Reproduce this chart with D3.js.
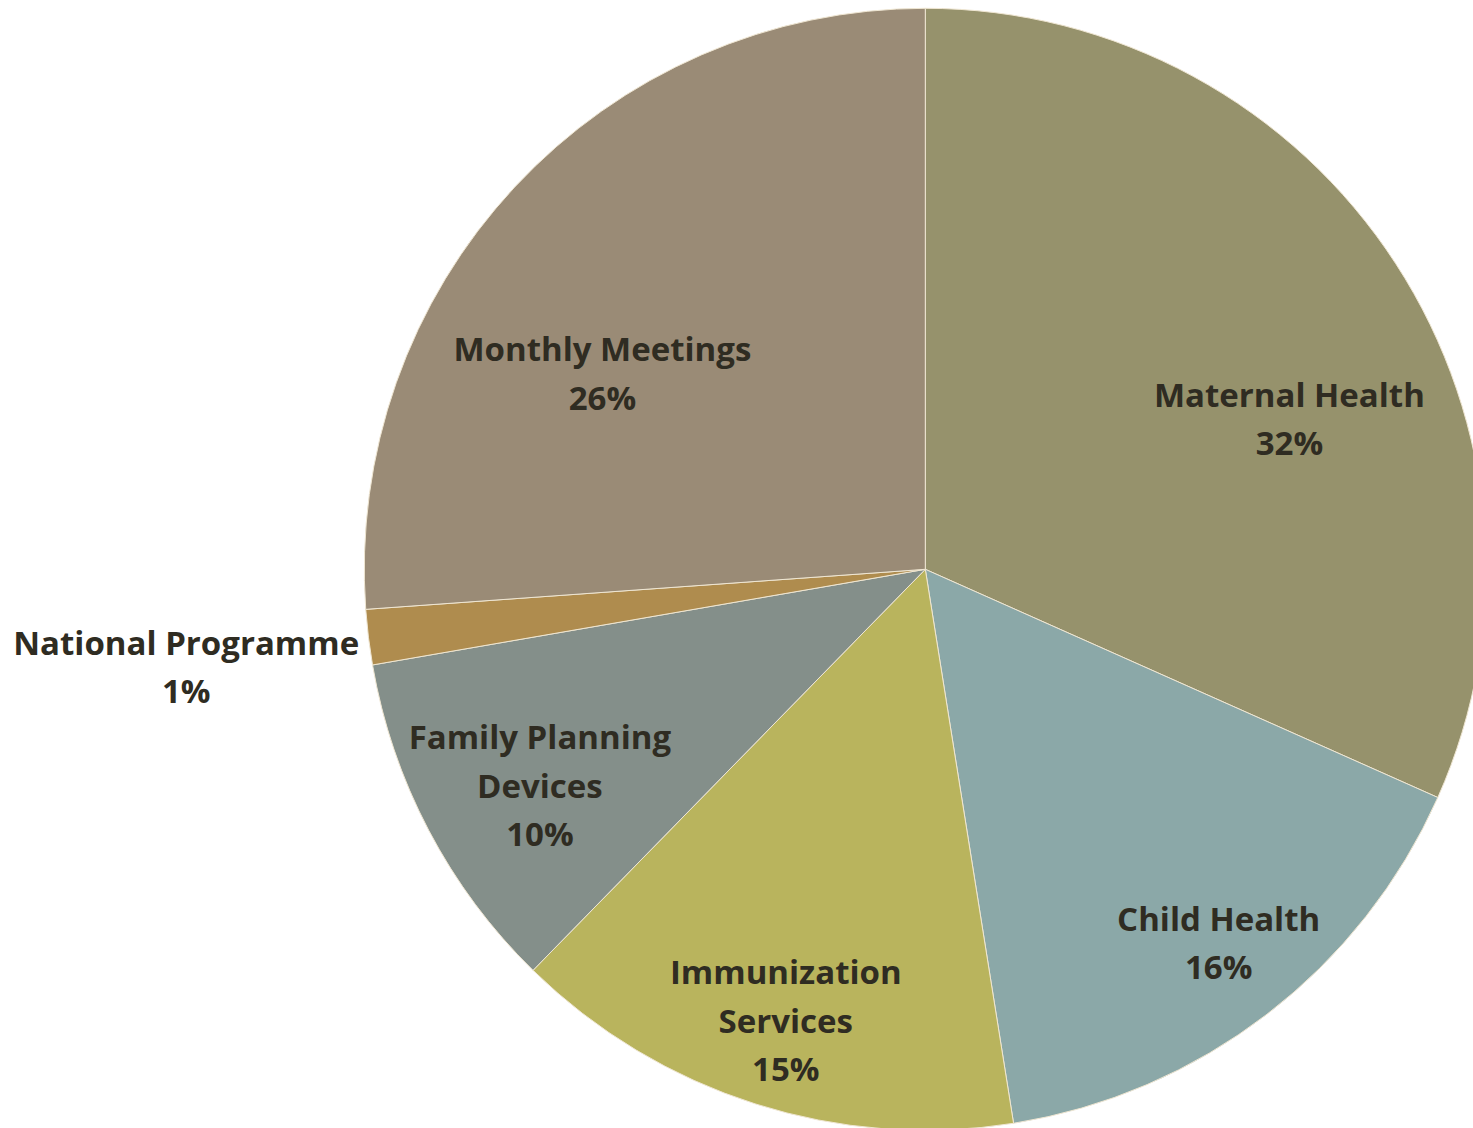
<!DOCTYPE html>
<html>
<head>
<meta charset="utf-8">
<script src="https://d3js.org/d3.v7.min.js"></script>
<style>
  body { margin: 0; background: #fff; }
  svg { display: block; }
  .slice-label { font-family: "Open Sans", Lato, sans-serif; font-weight: 700; font-size: 33px; fill: #2f2c22; }
</style>
</head>
<body>
<div id="chart"></div>
<script>
// Pie data (share of activities, %)
const categories = ['Maternal Health', 'Child Health', 'Immunization Services', 'Family Planning Devices', 'National Programme', 'Monthly Meetings'];
const values = [31.67, 15.82, 14.84, 9.95, 1.59, 26.14];
const percentLabels = ['32%', '16%', '15%', '10%', '1%', '26%'];
const colors = ['#96926c', '#8ba8a8', '#b9b45d', '#848f8a', '#af8c4e', '#9a8b76'];

const width = 1473, height = 1128;
const cx = 925.3, cy = 569.3, radius = 561;
const lineHeight = 48.5;

// Excel-like "best fit" label spots: angle shift from slice middle (deg) and radius factor
const labelSpots = {
  'Maternal Health': { shift: 10.6, r: 0.702 },
  'Child Health': { shift: -0.6, r: 0.847 },
  'Immunization Services': { shift: -0.5, r: 0.843 },
  'Family Planning Devices': { shift: -1.6, r: 0.788 },
  'National Programme': { shift: -0.6, r: 1.329 },
  'Monthly Meetings': { shift: -11.75, r: 0.673 }
};
// where the long names wrap
const wrapped = {
  'Immunization Services': ['Immunization', 'Services'],
  'Family Planning Devices': ['Family Planning', 'Devices']
};

const data = categories.map((c, i) => ({ name: c, value: values[i], pct: percentLabels[i], color: colors[i] }));

const svg = d3.select('#chart').append('svg')
  .attr('width', width)
  .attr('height', height);

const g = svg.append('g').attr('transform', `translate(${cx},${cy})`);

const pie = d3.pie().value(d => d.value).sort(null);
const arc = d3.arc().innerRadius(0).outerRadius(radius);
const arcs = pie(data);

g.selectAll('.slice')
  .data(arcs)
  .enter()
  .append('path')
  .attr('class', 'slice')
  .attr('d', arc)
  .attr('fill', d => d.data.color)
  .attr('stroke', '#efe6d2')
  .attr('stroke-width', 1);

// labels
g.selectAll('.slice-label')
  .data(arcs)
  .enter()
  .append('text')
  .attr('class', 'slice-label')
  .attr('text-anchor', 'middle')
  .each(function(d) {
    const spot = labelSpots[d.data.name];
    const a = (d.startAngle + d.endAngle) / 2 + spot.shift * Math.PI / 180;
    const r = radius * spot.r;
    const x = Math.sin(a) * r;
    const y = -Math.cos(a) * r;
    const lines = (wrapped[d.data.name] || [d.data.name]).concat([d.data.pct]);
    const top = y - (lines.length - 1) * lineHeight / 2 + 11.8;
    const t = d3.select(this);
    lines.forEach((ln, i) => {
      t.append('tspan')
        .attr('x', x)
        .attr('y', top + i * lineHeight)
        .text(ln);
    });
  });
</script>
</body>
</html>
